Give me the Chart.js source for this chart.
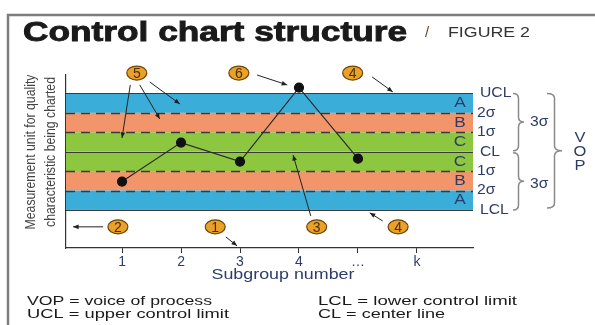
<!DOCTYPE html>
<html>
<head>
<meta charset="utf-8">
<script src="https://cdn.jsdelivr.net/npm/chart.js@4"></script>
<style>
  body { margin: 0; background: #fff; }
  #wrap { position: relative; width: 595px; height: 325px; }
</style>
</head>
<body>
<div id="wrap"><canvas id="myChart" width="595" height="325"></canvas></div>
<script>
const ctx = document.getElementById('myChart').getContext('2d');

// subgroup measurements, in sigma units from the center line
const subgroups = [1, 2, 3, 4, 5];
const values = [-1.54, 0.47, -0.51, 3.30, -0.36];

const xTicks = [1, 2, 3, 4, 5, 6];
const xTickLabels = ['1', '2', '3', '4', '…', 'k'];

const zoneEdges = [3, 2, 1, 0, -1, -2, -3];
const edgeLabels = ['UCL', '2σ', '1σ', 'CL', '1σ', '2σ', 'LCL'];
const zoneLetters = ['A', 'B', 'C', 'C', 'B', 'A'];

// numbered callouts (data units)
const calloutNums = ['5', '6', '4', '2', '1', '3', '4'];
const calloutX = [1.25, 2.98, 4.91, 0.93, 2.58, 4.30, 5.68];
const calloutY = [4.05, 4.05, 4.05, -3.87, -3.87, -3.87, -3.87];

// arrows [x1, y1, x2, y2] (data units)
const arrows = [
    [1.14, 3.44, 1.00, 0.71],
    [1.30, 3.44, 1.64, 1.69],
    [1.47, 3.59, 1.98, 2.46],
    [3.29, 3.95, 3.80, 3.44],
    [5.24, 3.85, 5.59, 3.08],
    [0.68, -3.87, 0.17, -3.87],
    [2.76, -4.39, 2.95, -4.85],
    [4.20, -3.31, 3.90, -0.17],
    [5.42, -3.57, 5.20, -3.15]
];

const navy = '#2d3c6a';

function txt(c, s, x, y, o) {
    c.save();
    c.font = o.font;
    c.fillStyle = o.color || '#222';
    c.textAlign = o.align || 'left';
    c.textBaseline = o.base || 'alphabetic';
    const w = c.measureText(s).width;
    const sx = o.width ? o.width / w : (o.sx || 1);
    c.translate(x, y);
    if (o.rot) c.rotate(o.rot);
    c.scale(sx, 1);
    if (o.stroke) {
        c.strokeStyle = c.fillStyle;
        c.lineWidth = o.stroke;
        c.strokeText(s, 0, 0);
    }
    c.fillText(s, 0, 0);
    c.restore();
}

function brace(c, x0, yTop, yBot, w) {
    const xm = x0 + w / 2, ym = (yTop + yBot) / 2, r = 5;
    c.beginPath();
    c.moveTo(x0, yTop);
    c.quadraticCurveTo(xm, yTop, xm, yTop + r);
    c.lineTo(xm, ym - r);
    c.quadraticCurveTo(xm, ym, x0 + w, ym);
    c.quadraticCurveTo(xm, ym, xm, ym + r);
    c.lineTo(xm, yBot - r);
    c.quadraticCurveTo(xm, yBot, x0, yBot);
    c.stroke();
}

function arrow(c, x1, y1, x2, y2) {
    const a = Math.atan2(y2 - y1, x2 - x1), h = 6;
    c.beginPath();
    c.moveTo(x1, y1);
    c.lineTo(x2, y2);
    c.stroke();
    c.beginPath();
    c.moveTo(x2, y2);
    c.lineTo(x2 - h * Math.cos(a - 0.4), y2 - h * Math.sin(a - 0.4));
    c.lineTo(x2 - h * Math.cos(a + 0.4), y2 - h * Math.sin(a + 0.4));
    c.closePath();
    c.fill();
}

const zonesPlugin = {
    id: 'zones',
    beforeDatasetsDraw(chart) {
        const c = chart.ctx, x = chart.scales.x, y = chart.scales.y;
        const L = chart.chartArea.left, R = chart.chartArea.right;
        const fills = ['#3aaed8', '#f3956a', '#8dc63f', '#8dc63f', '#f3956a', '#3aaed8'];
        c.save();
        for (let i = 0; i < zoneLetters.length; i++) {
            const y1 = y.getPixelForValue(zoneEdges[i]);
            const y2 = y.getPixelForValue(zoneEdges[i + 1]);
            c.fillStyle = fills[i];
            c.fillRect(L, y1, R - L, y2 - y1);
        }
        zoneEdges.forEach((v, i) => {
            const py = Math.round(y.getPixelForValue(v)) + 0.5;
            const solid = v === 0 || i === 0 || i === zoneEdges.length - 1;
            c.strokeStyle = '#3a3a3a';
            c.lineWidth = solid ? 1 : 1.3;
            c.setLineDash(solid ? [] : [9, 6]);
            c.beginPath();
            c.moveTo(L, py);
            c.lineTo(R, py);
            c.stroke();
        });
        c.restore();
    },
    afterDraw(chart) {
        const c = chart.ctx, x = chart.scales.x, y = chart.scales.y;
        const R = chart.chartArea.right;
        c.save();

        // frame
        c.strokeStyle = '#7d7d7d';
        c.lineWidth = 2.5;
        c.beginPath();
        c.moveTo(8, 325);
        c.lineTo(8, 15);
        c.lineTo(595, 15);
        c.stroke();

        // title
        txt(c, 'Control chart structure', 23, 41, { font: 'bold 28px "Liberation Sans"', color: '#1a1a1a', width: 384, stroke: 0.9 });
        txt(c, '/', 427, 37, { font: '15px "Liberation Sans"', color: '#6b4a2a', align: 'center' });
        txt(c, 'FIGURE 2', 448, 37, { font: '15px "Liberation Sans"', color: '#333', width: 82 });

        // zone letters and edge labels
        for (let i = 0; i < zoneLetters.length; i++) {
            const ym = y.getPixelForValue((zoneEdges[i] + zoneEdges[i + 1]) / 2);
            txt(c, zoneLetters[i], R - 13, ym, { font: '15px "Liberation Sans"', color: navy, align: 'center', base: 'middle', sx: 1.15 });
        }
        zoneEdges.forEach((v, i) => {
            const py = y.getPixelForValue(v);
            const lx = edgeLabels[i].length === 2 && edgeLabels[i] !== 'CL' ? R + 4 : R + 7;
            txt(c, edgeLabels[i], lx, py, { font: '14px "Liberation Sans"', color: navy, base: 'middle', sx: 1.12 });
        });

        // braces
        const yU = y.getPixelForValue(3), yC = y.getPixelForValue(0), yL = y.getPixelForValue(-3);
        c.strokeStyle = '#8a8a8a';
        c.lineWidth = 1.5;
        brace(c, R + 40, yU, yC - 1, 11);
        brace(c, R + 40, yC + 1, yL, 11);
        brace(c, R + 74, yU, yL - 2, 15);
        txt(c, '3σ', R + 57, (yU + yC) / 2, { font: '14px "Liberation Sans"', color: navy, base: 'middle', sx: 1.12 });
        txt(c, '3σ', R + 57, (yC + yL) / 2 + 3, { font: '14px "Liberation Sans"', color: navy, base: 'middle', sx: 1.12 });
        ['V', 'O', 'P'].forEach((ch, k) => {
            txt(c, ch, R + 107, yC - 14 + k * 14, { font: '15px "Liberation Sans"', color: navy, align: 'center', base: 'middle', sx: 1.1 });
        });

        // axis titles
        txt(c, 'Measurement unit for quality', 31, 152, { font: '14px "Liberation Sans"', color: '#444', align: 'center', base: 'middle', rot: -Math.PI / 2, width: 155 });
        txt(c, 'characteristic being charted', 51, 152, { font: '14px "Liberation Sans"', color: '#444', align: 'center', base: 'middle', rot: -Math.PI / 2, width: 150 });
        txt(c, 'Subgroup number', 283, 279, { font: '15px "Liberation Sans"', color: navy, align: 'center', width: 143 });

        // arrows
        c.strokeStyle = '#222';
        c.fillStyle = '#222';
        c.lineWidth = 1;
        arrows.forEach(a => {
            arrow(c, x.getPixelForValue(a[0]), y.getPixelForValue(a[1]),
                     x.getPixelForValue(a[2]), y.getPixelForValue(a[3]));
        });

        // callouts
        calloutNums.forEach((n, i) => {
            const px = x.getPixelForValue(calloutX[i]), py = y.getPixelForValue(calloutY[i]);
            c.beginPath();
            c.ellipse(px, py, 10, 7, 0, 0, Math.PI * 2);
            c.fillStyle = '#e9a12a';
            c.fill();
            c.strokeStyle = '#6b4400';
            c.lineWidth = 1.2;
            c.stroke();
            txt(c, n, px, py + 1, { font: '14px "Liberation Sans"', color: '#4a3000', align: 'center', base: 'middle' });
        });

        // footer
        const ff = '13px "Liberation Sans"';
        txt(c, 'VOP = voice of process', 27, 305, { font: ff, color: '#1a1a1a', width: 185 });
        txt(c, 'UCL = upper control limit', 27, 318, { font: ff, color: '#1a1a1a', width: 202 });
        txt(c, 'LCL = lower control limit', 318, 305, { font: ff, color: '#1a1a1a', width: 199 });
        txt(c, 'CL = center line', 318, 318, { font: ff, color: '#1a1a1a', width: 127 });

        c.restore();
    }
};

const myChart = new Chart(ctx, {
    type: 'scatter',
    data: {
        datasets: [{
            data: subgroups.map((s, i) => ({ x: s, y: values[i] })),
            showLine: true,
            borderColor: '#2a2a2a',
            borderWidth: 1.2,
            pointRadius: 4.5,
            pointBackgroundColor: '#111',
            pointBorderColor: '#111'
        }]
    },
    options: {
        responsive: false,
        animation: false,
        devicePixelRatio: 1,
        layout: {
            padding: { left: 66, right: 122, top: 75, bottom: 47 }
        },
        plugins: {
            legend: { display: false },
            tooltip: { enabled: false }
        },
        scales: {
            x: {
                type: 'linear',
                min: 0.05,
                max: 6.95,
                afterBuildTicks: s => { s.ticks = xTicks.map(v => ({ value: v })); },
                afterFit: s => { s.height = 30; },
                grid: {
                    drawOnChartArea: false,
                    tickLength: 5,
                    color: '#333'
                },
                border: { display: true, color: '#333', width: 1.2 },
                ticks: {
                    padding: 1,
                    color: navy,
                    font: { family: 'Liberation Sans', size: 14 },
                    callback: v => xTickLabels[xTicks.indexOf(v)]
                }
            },
            y: {
                min: -4.96,
                max: 3.95,
                afterFit: s => { s.width = 0; },
                grid: { display: false },
                border: { display: true, color: '#333', width: 1.2 },
                ticks: { display: false }
            }
        }
    },
    plugins: [zonesPlugin]
});
</script>
</body>
</html>
